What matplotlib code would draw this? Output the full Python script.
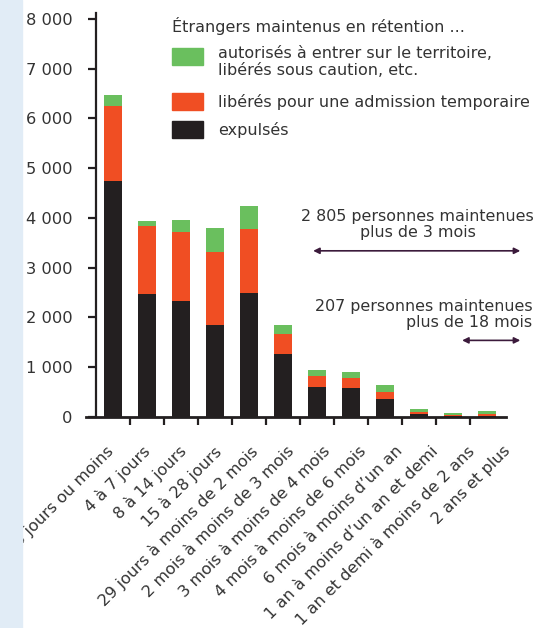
import matplotlib.pyplot as plt

# Durée de rétention
categories = ["3 jours ou moins", "4 à 7 jours", "8 à 14 jours", "15 à 28 jours",
              "29 jours à moins de 2 mois", "2 mois à moins de 3 mois",
              "3 mois à moins de 4 mois", "4 mois à moins de 6 mois",
              "6 mois à moins d\u2019un an", "1 an à moins d\u2019un an et demi",
              "1 an et demi à moins de 2 ans", "2 ans et plus"]

# valeurs (empilées)
expulses = [4740, 2480, 2340, 1840, 2500, 1260, 600, 580, 360, 60, 15, 15]
admission = [1520, 1360, 1380, 1480, 1280, 400, 220, 200, 140, 40, 30, 45]
autorises = [220, 100, 240, 480, 460, 180, 120, 120, 140, 60, 35, 60]

titre_legende = "Étrangers maintenus en rétention ..."
labels_legende = ["autorisés à entrer sur le territoire,\nlibérés sous caution, etc.",
                  "libérés pour une admission temporaire",
                  "expulsés"]

vert = "#6abf5e"
orange = "#f04e23"
noir = "#231f20"
gris = "#333333"

W, H = 540, 628
fig = plt.figure(figsize=(W / 100, H / 100), dpi=100)


def px(x, y):
    # coordonnées pixels (origine en haut à gauche) -> fraction de figure
    return x / W, 1 - y / H


# bande bleue à gauche
fig.patches.append(plt.Rectangle((0, 0), 22 / W, 1, transform=fig.transFigure,
                                 color="#e1ecf6", zorder=0))

ax = fig.add_axes([86 / W, (H - 417) / H, 420 / W, 404 / H])
ax.set_xlim(-0.8, 11.55)
ax.set_ylim(0, 8120)

x = list(range(len(categories)))
largeur = 0.53
bas3 = [a + b for a, b in zip(expulses, admission)]
ax.bar(x, expulses, largeur, color=noir, zorder=2)
ax.bar(x, admission, largeur, bottom=expulses, color=orange, zorder=2)
ax.bar(x, autorises, largeur, bottom=bas3, color=vert, zorder=2)

# axes
for s in ["top", "right"]:
    ax.spines[s].set_visible(False)
ax.spines["left"].set_position(("data", -0.5))
ax.spines["left"].set_linewidth(1.6)
ax.spines["left"].set_color(noir)
ax.spines["bottom"].set_linewidth(2)
ax.spines["bottom"].set_color(noir)

ax.set_yticks(range(0, 8001, 1000))
ax.set_yticklabels(["0", "1 000", "2 000", "3 000", "4 000", "5 000", "6 000", "7 000", "8 000"])
ax.tick_params(axis="y", length=6, width=1.6, color=noir, pad=11, labelsize=11.7, labelcolor=gris)

# les étiquettes sont un peu plus espacées que les barres dans l'original
pos_labels = [-0.22 + 1.062 * i for i in x]
ax.set_xticks(pos_labels)
ax.set_xticklabels(categories, rotation=45, ha="right", va="top", rotation_mode="anchor")
ax.tick_params(axis="x", which="major", length=0, pad=19, labelsize=11.6, labelcolor=gris)
ax.set_xticks([i + 0.5 for i in x[:-1]], minor=True)
ax.tick_params(axis="x", which="minor", length=6, width=1.6, color=noir)

# flèches
fleche = dict(arrowstyle="<|-|>", color="#3b1a3b", lw=1.2, mutation_scale=9,
              shrinkA=0, shrinkB=0)
ax.annotate("", xy=(5.88, 3340), xytext=(11.97, 3340), arrowprops=fleche)
ax.annotate("", xy=(10.26, 1540), xytext=(11.97, 1540), arrowprops=fleche)
ax.text(8.95, 3870, "2 805 personnes maintenues\nplus de 3 mois", ha="center", va="center",
        fontsize=11.4, color=gris, linespacing=1.15)
ax.text(12.32, 2060, "207 personnes maintenues\nplus de 18 mois", ha="right", va="center",
        fontsize=11.4, color=gris, linespacing=1.15, clip_on=False)

# légende
fig.text(*px(172, 26), titre_legende, ha="left", va="center", fontsize=11.5, color=gris)
couleurs_legende = [vert, orange, noir]
y_patch = [48, 93, 121]
y_texte = [62, 101.5, 129.5]
for c, yp, yt, lab in zip(couleurs_legende, y_patch, y_texte, labels_legende):
    fig.patches.append(plt.Rectangle(px(172, yp + 17), 31 / W, 17 / H,
                                     transform=fig.transFigure, color=c))
    fig.text(*px(218, yt), lab, ha="left", va="center", fontsize=11.5, color=gris,
             linespacing=1.15)

fig.savefig("out.png", dpi=100)
